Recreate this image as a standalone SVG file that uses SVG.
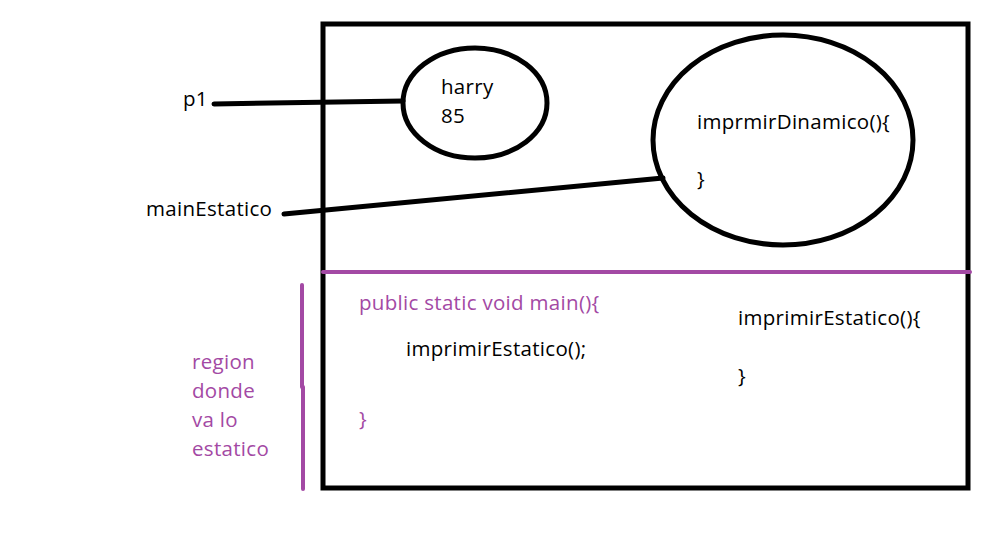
<svg xmlns="http://www.w3.org/2000/svg" width="990" height="558" viewBox="0 0 990 558">
<style>
text{font-family:"Open Sans","Liberation Sans",sans-serif;font-size:20.5px;letter-spacing:0.3px;fill:#000}
.p{fill:#a349a4}
.k{fill:none;stroke:#000;stroke-width:5}
.pl{fill:none;stroke:#a349a4;stroke-width:4;stroke-linecap:round}
</style>
<rect width="990" height="558" fill="#fff"/>
<g id="frame">
<rect class="k" x="323" y="24" width="645" height="464"/>
<line class="pl" x1="323" y1="272" x2="970" y2="272"/>
</g>
<g id="static-marker">
<line class="pl" x1="302" y1="285" x2="302" y2="387"/>
<line class="pl" x1="303" y1="387" x2="303" y2="489"/>
<text class="p" x="192" y="369">region</text>
<text class="p" x="192" y="398">donde</text>
<text class="p" x="192" y="427">va lo</text>
<text class="p" x="192" y="456">estatico</text>
</g>
<g id="p1"><text x="183" y="106">p1</text></g>
<g id="mainEstatico"><text x="146" y="216">mainEstatico</text></g>
<g id="harry">
<ellipse class="k" cx="475" cy="103" rx="72" ry="55"/>
<text x="441" y="94">harry</text>
<text x="441" y="123">85</text>
</g>
<g id="dinamico">
<ellipse class="k" cx="783" cy="140" rx="130" ry="105"/>
<text x="697" y="129">imprmirDinamico(){</text>
<text x="697" y="186">}</text>
</g>
<g id="main">
<text class="p" x="359" y="310">public static void main(){</text>
<text x="406" y="356">imprimirEstatico();</text>
<text class="p" x="359" y="426">}</text>
</g>
<g id="estatico">
<text x="738" y="325">imprimirEstatico(){</text>
<text x="738" y="383">}</text>
</g>
<g id="connectors">
<line class="k" x1="214" y1="104" x2="403" y2="101" stroke-linecap="round"/>
<line class="k" x1="284" y1="214" x2="663" y2="178" stroke-linecap="round"/>
</g>
</svg>
